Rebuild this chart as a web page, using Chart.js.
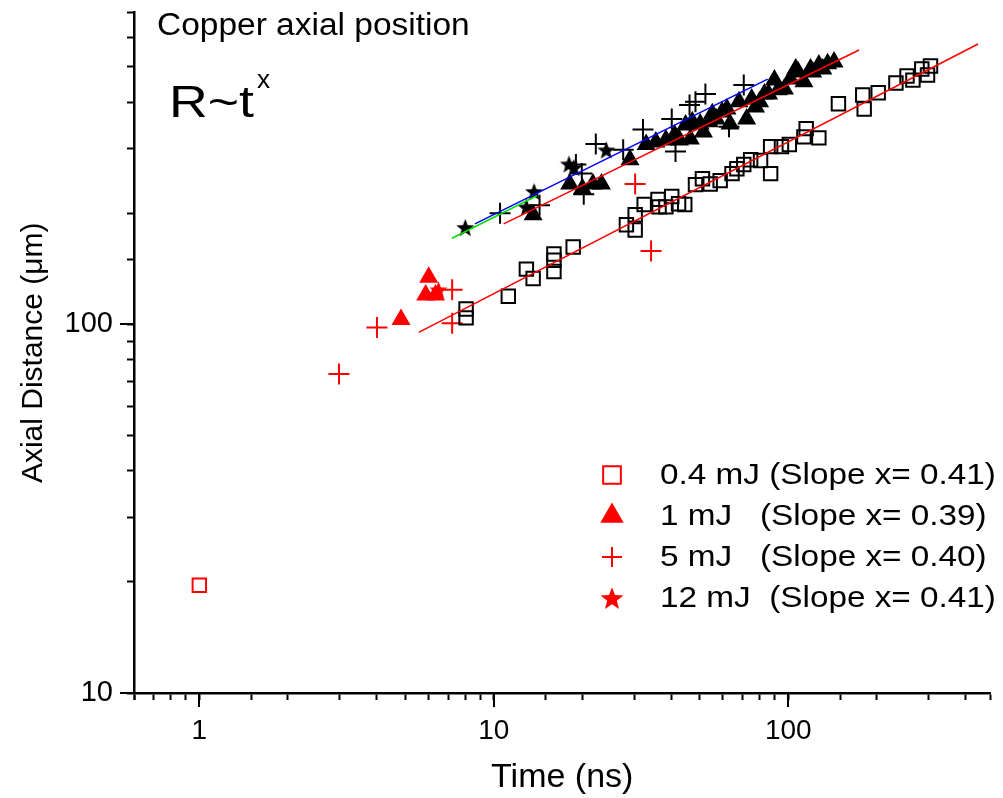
<!DOCTYPE html>
<html>
<head>
<meta charset="utf-8">
<title>Copper axial position</title>
<script src="https://cdn.jsdelivr.net/npm/chart.js@4.4.1/dist/chart.umd.min.js"></script>
<style>
  html, body { margin: 0; padding: 0; background: #fff; }
  canvas { display: block; }
</style>
</head>
<body>
<canvas id="axialChart" width="1003" height="798"></canvas>
<script>
// ---- data (Time in ns, Axial distance in um) ----
var xMajor = [1, 10, 100];
var yMajor = [10, 100];

var legendLabels = [
  "0.4 mJ (Slope x= 0.41)",
  "1 mJ   (Slope x= 0.39)",
  "5 mJ   (Slope x= 0.40)",
  "12 mJ  (Slope x= 0.41)"
];

// 0.4 mJ - open squares
var sq04Red = [[1, 19.6]];
var sq04 = [
  [8.05, 110], [8.05, 104], [11.2, 119], [12.9, 141], [13.6, 133], [16.0, 155], [16.0, 149],
  [16.0, 139], [18.6, 162], [28.2, 186], [30.2, 198], [30.2, 180], [32.4, 211], [36.1, 218],
  [36.4, 208], [38.4, 208], [40.2, 222], [42.4, 212], [44.5, 211], [48.4, 239], [51.1, 248],
  [54.3, 240], [58.7, 245], [64.4, 256], [66.9, 264], [70.6, 271], [74.5, 279], [80.5, 278],
  [87.1, 256], [87.1, 303], [94.8, 303], [100.8, 307], [113, 322], [115, 339], [127, 320],
  [148, 396], [179, 418], [181, 383], [202, 424], [232, 451], [253, 471], [265, 459],
  [284, 492], [297, 474], [304, 501]
];

// 1 mJ - filled triangles
var tri1Red = [[4.84, 103], [6.01, 134], [5.87, 120], [6.34, 120]];
var tri1 = [
  [13.6, 198], [18.1, 240], [20.0, 233], [21.7, 240], [23.2, 240], [29.0, 279], [32.9, 307],
  [35.5, 312], [38.4, 316], [41.1, 326], [42.7, 316], [44.8, 347], [46.5, 318], [47.2, 354],
  [50.2, 349], [51.5, 332], [53.9, 354], [55.2, 372], [56.9, 360], [59.6, 376], [61.9, 383],
  [63.4, 349], [68.0, 401], [72.2, 360], [75.1, 408], [77.4, 388], [79.9, 401], [83.0, 421],
  [85.7, 421], [89.7, 459], [92.5, 432], [97.0, 434], [101.6, 462], [106, 492], [108, 483],
  [113, 454], [119, 492], [121, 483], [127, 504], [131, 492], [136, 508], [143, 514]
];

// 5 mJ - crosses
var plus5Red = [[2.98, 73.3], [4.01, 98], [7.22, 124], [7.22, 100.6], [30.2, 240], [34.2, 158]];
var plus5 = [
  [10.5, 200], [14.3, 210], [19.0, 271], [19.9, 256], [20.2, 225], [22.2, 308], [27.5, 297],
  [32.1, 337], [40.2, 360], [41.4, 294], [46.2, 393], [48.4, 401], [52.3, 421], [62.9, 343],
  [70.6, 445]
];

// 12 mJ - stars
var star12Red = [[6.49, 124]];
var star12 = [[8.0, 183], [12.9, 208], [13.7, 229], [18.0, 272], [18.7, 266], [24.1, 297]];

// power-law fits (end points)
var fitSq = [[5.56, 95], [441, 575]];
var fitTri = [[10.8, 187], [174, 554]];
var fitPlus = [[8.63, 187], [85.1, 462]];
var fitStar = [[7.21, 171], [14.0, 223]];

function pts(arr) {
  return arr.map(function (p) { return { x: p[0], y: p[1] }; });
}

function starImage(color, size) {
  var c = document.createElement('canvas');
  c.width = size;
  c.height = size;
  var g = c.getContext('2d');
  var R = size / 2, r = R * 0.42, cx = size / 2, cy = size / 2 + R * 0.1;
  g.beginPath();
  for (var i = 0; i < 10; i++) {
    var a = -Math.PI / 2 + i * Math.PI / 5;
    var rr = (i % 2) ? r : R;
    g.lineTo(cx + rr * Math.cos(a), cy + rr * Math.sin(a));
  }
  g.closePath();
  g.fillStyle = color;
  g.fill();
  return c;
}

var RED = '#ff0000';
var starBlack = starImage('#000000', 19);
var starRed = starImage(RED, 19);
var starLegend = starImage(RED, 24);

function markerSet(data, style, color) {
  var isStroke = (style === 'rect' || style === 'cross');
  var ds = {
    data: pts(data),
    showLine: false,
    pointStyle: style,
    borderColor: color,
    backgroundColor: isStroke ? 'rgba(0,0,0,0)' : color,
    pointBorderWidth: style === 'triangle' ? 0 : 2,
    order: 2
  };
  if (style === 'rect') ds.pointRadius = 9.5;
  if (style === 'triangle') ds.pointRadius = 11;
  if (style === 'cross') ds.pointRadius = 10.5;
  if (typeof style !== 'string') ds.pointRadius = 9.5;
  return ds;
}

function fitLine(data, color) {
  return {
    type: 'line',
    data: pts(data),
    showLine: true,
    borderColor: color,
    borderWidth: 1.5,
    pointRadius: 0,
    fill: false,
    order: 0
  };
}

var legendItems = [
  { style: 'rect', radius: 12.5, fill: 'rgba(0,0,0,0)', width: 2 },
  { style: 'triangle', radius: 13.5, fill: RED, width: 0 },
  { style: 'cross', radius: 10, fill: 'rgba(0,0,0,0)', width: 2 },
  { style: starLegend, radius: 12, fill: RED, width: 0 }
];

function isDecade(v) {
  var l = Math.log10(v);
  return Math.abs(l - Math.round(l)) < 1e-6;
}

// text in the reference is a little wider than the font, stretch it
function wideText(ctx, text, x, y, size, sx) {
  ctx.save();
  ctx.font = size + 'px "Liberation Sans", Arial, sans-serif';
  ctx.translate(x, y);
  ctx.scale(sx, 1);
  ctx.fillText(text, 0, 0);
  var w = ctx.measureText(text).width * sx;
  ctx.restore();
  return w;
}

var overlay = {
  id: 'overlay',
  afterDraw: function (chart) {
    var ctx = chart.ctx;
    var xs = chart.scales.x, ys = chart.scales.y;
    var area = chart.chartArea;
    ctx.save();
    // long ticks at the decades
    ctx.strokeStyle = '#000';
    ctx.lineWidth = 2;
    ctx.beginPath();
    xMajor.forEach(function (v) {
      var px = Math.round(xs.getPixelForValue(v));
      ctx.moveTo(px, area.bottom);
      ctx.lineTo(px, area.bottom + 14);
    });
    yMajor.forEach(function (v) {
      var py = Math.round(ys.getPixelForValue(v));
      ctx.moveTo(area.left - 14, py);
      ctx.lineTo(area.left, py);
    });
    ctx.stroke();

    // labels inside the plot
    ctx.fillStyle = '#000';
    ctx.textBaseline = 'alphabetic';
    ctx.textAlign = 'left';
    wideText(ctx, 'Copper axial position', 157, 35, 31, 1.08);
    var w = wideText(ctx, 'R~t', 169, 117, 44, 1.22);
    wideText(ctx, 'x', 169 + w + 3, 88, 25, 1.05);

    // legend
    var lx = 612, ly = 475, step = 41;
    legendItems.forEach(function (it, i) {
      var y = ly + i * step;
      ctx.save();
      ctx.fillStyle = it.fill;
      ctx.strokeStyle = RED;
      ctx.lineWidth = it.width;
      Chart.helpers.drawPoint(ctx, { pointStyle: it.style, radius: it.radius, rotation: 0, borderWidth: it.width }, lx, y);
      ctx.restore();
      ctx.fillStyle = '#000';
      ctx.textBaseline = 'middle';
      wideText(ctx, legendLabels[i], 660, y + 1, 30, 1.11);
    });
    ctx.restore();
  }
};

var ctx = document.getElementById('axialChart');
var chart = new Chart(ctx, {
  type: 'scatter',
  data: {
    datasets: [
      fitLine(fitSq, RED),
      fitLine(fitTri, RED),
      fitLine(fitStar, '#00dd00'),
      fitLine(fitPlus, '#0000ff'),
      markerSet(sq04, 'rect', '#000'),
      markerSet(sq04Red, 'rect', RED),
      markerSet(tri1, 'triangle', '#000'),
      markerSet(tri1Red, 'triangle', RED),
      markerSet(plus5, 'cross', '#000'),
      markerSet(plus5Red, 'cross', RED),
      markerSet(star12, starBlack, '#000'),
      markerSet(star12Red, starRed, RED)
    ]
  },
  options: {
    responsive: false,
    animation: false,
    layout: { padding: { top: 10, left: 0, right: 0, bottom: 0 } },
    plugins: {
      legend: { display: false },
      tooltip: { enabled: false }
    },
    scales: {
      x: {
        type: 'logarithmic',
        position: 'bottom',
        min: 0.6,
        max: 486,
        border: { display: true, color: '#000', width: 2.5 },
        grid: { display: true, drawOnChartArea: false, drawTicks: true, tickLength: 7, tickWidth: 2, tickColor: '#000' },
        ticks: {
          autoSkip: false,
          maxRotation: 0,
          padding: 14,
          color: '#000',
          font: { family: '"Liberation Sans Narrow", "Liberation Sans", Arial, sans-serif', size: 28 },
          callback: function (v) { return (isDecade(v) && xMajor.indexOf(Math.round(v)) >= 0) ? String(Math.round(v)) : ''; }
        },
        title: {
          display: true,
          text: 'Time (ns)',
          color: '#000',
          font: { family: '"Liberation Sans Narrow", "Liberation Sans", Arial, sans-serif', size: 34 },
          padding: { top: 0, bottom: 0 }
        },
        afterFit: function (s) { s.height = 105; s.paddingLeft = 0; s.paddingRight = 0; }
      },
      y: {
        type: 'logarithmic',
        position: 'left',
        min: 10,
        max: 700,
        border: { display: true, color: '#000', width: 2.5 },
        grid: { display: true, drawOnChartArea: false, drawTicks: true, tickLength: 7, tickWidth: 2, tickColor: '#000' },
        ticks: {
          autoSkip: false,
          padding: 14,
          color: '#000',
          font: { family: '"Liberation Sans", Arial, sans-serif', size: 29 },
          callback: function (v) { return (isDecade(v) && yMajor.indexOf(Math.round(v)) >= 0) ? String(Math.round(v)) : ''; }
        },
        title: {
          display: true,
          text: 'Axial Distance (\u03bcm)',
          color: '#000',
          font: { family: '"Liberation Sans", Arial, sans-serif', size: 30 },
          padding: { top: 16, bottom: 0 }
        },
        afterFit: function (s) { s.width = 134; s.paddingTop = 0; s.paddingBottom = 0; }
      }
    }
  },
  plugins: [overlay]
});
</script>
</body>
</html>
